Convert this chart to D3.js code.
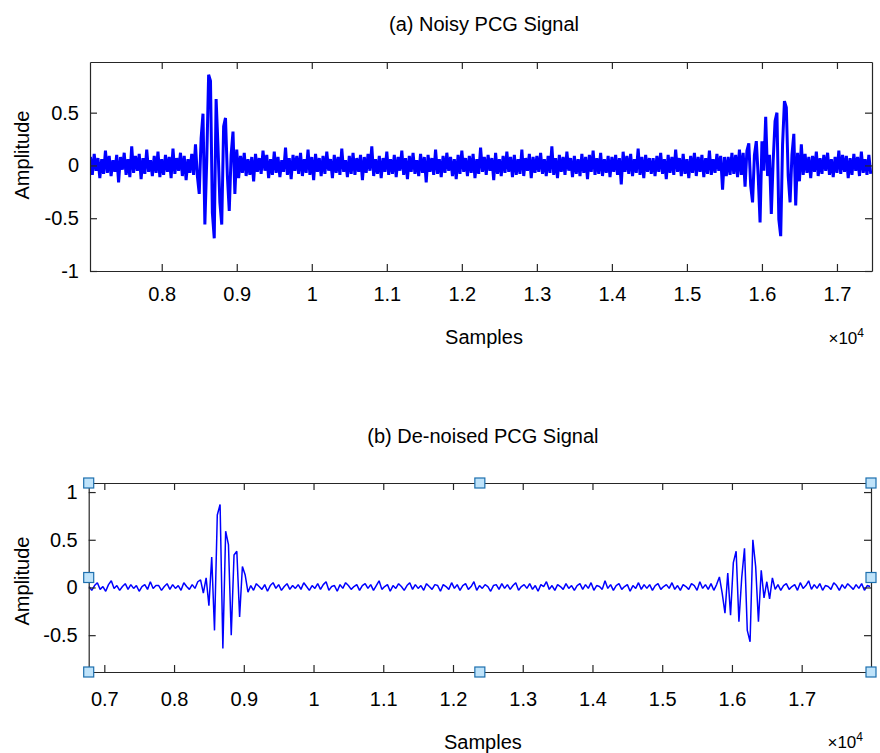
<html>
  <head>
    <style>
      body { margin: 0; background: #fff; }
      text { font-family: "Liberation Sans", Arial, Helvetica, sans-serif; fill: #000; }
      .axis path, .axis line { stroke: #262626; stroke-width: 1.2; }
      .axis text { font-size: 20px; fill: #000; }
    </style>
    <script src="https://cdn.jsdelivr.net/npm/d3@7"></script>
  </head>
  <body>
    <svg id="container" width="880" height="753"></svg>
  </body>
  <script>
    // noisy PCG, one value every 25 samples starting at sample 7050
    const noisyStart = 7050;
    const noisyStep = 25;
    const noisyValues = [
      0.08,-0.09,0.11,-0.05,0.07,-0.12,0.06,-0.08,0.14,-0.07,0.09,-0.1,0.05,-0.06,0.1,-0.16,0.08,-0.04,0.12,-0.09,
      0.06,-0.11,0.18,-0.07,0.09,-0.05,0.11,-0.13,0.07,-0.08,0.15,-0.06,0.05,-0.1,0.09,-0.07,0.13,-0.11,0.06,-0.09,
      0.1,-0.06,0.08,-0.12,0.16,-0.08,0.07,-0.05,0.12,-0.1,0.09,-0.14,0.06,-0.07,0.11,-0.09,0.2,-0.1,-0.27,0.26,
      0.49,-0.56,0.05,0.86,0.8,-0.45,-0.69,0.63,0.18,-0.35,-0.56,0.37,0.45,-0.1,-0.43,0.1,0.32,-0.27,0.15,-0.12,
      0.09,-0.07,0.12,-0.1,0.06,-0.09,0.08,-0.15,0.11,-0.06,0.07,-0.08,0.14,-0.05,0.1,-0.12,0.06,-0.09,0.13,-0.07,
      0.08,-0.11,0.05,-0.06,0.17,-0.09,0.07,-0.13,0.1,-0.05,0.09,-0.08,0.12,-0.1,0.06,-0.07,0.15,-0.09,0.08,-0.14,
      0.11,-0.06,0.07,-0.1,0.09,-0.08,0.13,-0.05,0.06,-0.12,0.1,-0.07,0.08,-0.09,0.16,-0.06,0.05,-0.11,0.09,-0.08,
      0.12,-0.09,0.07,-0.06,0.1,-0.14,0.08,-0.07,0.11,-0.05,0.18,-0.1,0.06,-0.08,0.09,-0.12,0.07,-0.06,0.13,-0.09,
      0.06,-0.08,0.1,-0.11,0.08,-0.05,0.14,-0.09,0.07,-0.13,0.09,-0.06,0.12,-0.08,0.05,-0.1,0.11,-0.07,0.08,-0.16,
      0.1,-0.06,0.07,-0.09,0.15,-0.08,0.06,-0.11,0.09,-0.07,0.12,-0.05,0.08,-0.1,0.06,-0.13,0.1,-0.08,0.14,-0.06,
      0.07,-0.1,0.09,-0.07,0.11,-0.12,0.06,-0.08,0.17,-0.06,0.08,-0.09,0.1,-0.05,0.07,-0.14,0.12,-0.08,0.06,-0.1,
      0.09,-0.07,0.13,-0.06,0.08,-0.11,0.1,-0.09,0.06,-0.08,0.15,-0.1,0.07,-0.05,0.11,-0.12,0.08,-0.07,0.09,-0.06,
      0.12,-0.08,0.06,-0.1,0.09,-0.07,0.18,-0.09,0.07,-0.12,0.1,-0.06,0.08,-0.09,0.13,-0.05,0.07,-0.11,0.09,-0.08,
      0.06,-0.1,0.11,-0.07,0.08,-0.13,0.1,-0.06,0.14,-0.09,0.07,-0.08,0.12,-0.1,0.06,-0.07,0.09,-0.11,0.08,-0.06,
      0.1,-0.09,0.07,-0.18,0.13,-0.06,0.09,-0.08,0.11,-0.1,0.06,-0.07,0.16,-0.09,0.08,-0.12,0.1,-0.06,0.07,-0.08,
      0.07,-0.1,0.09,-0.06,0.12,-0.08,0.06,-0.13,0.1,-0.07,0.08,-0.09,0.15,-0.06,0.07,-0.1,0.11,-0.08,0.06,-0.12,
      0.09,-0.07,0.12,-0.1,0.08,-0.06,0.1,-0.11,0.07,-0.08,0.14,-0.09,0.06,-0.07,0.11,-0.05,0.09,-0.23,0.08,-0.1,
      0.08,-0.09,0.12,-0.08,0.1,-0.11,0.15,-0.09,0.12,-0.2,0.14,0.21,-0.19,-0.35,0.1,0.23,-0.1,-0.54,0.23,-0.05,
      0.46,-0.1,0.1,-0.46,0.05,0.42,0.5,-0.51,-0.67,0.2,0.61,0.55,-0.1,-0.35,0.1,0.3,-0.38,0.12,-0.15,0.2,
      -0.09,0.11,-0.07,0.08,-0.12,0.09,-0.06,0.13,-0.1,0.07,-0.08,0.1,-0.05,0.12,-0.09,0.06,-0.11,0.08,-0.07,0.14,
      -0.08,0.1,-0.06,0.09,-0.12,0.07,-0.09,0.11,-0.05,0.08,-0.1,0.13,-0.07,0.06,-0.09,0.1,-0.08
    ];

    // de-noised PCG, one value every 40 samples starting at sample 6780
    const cleanStart = 6780;
    const cleanStep = 40;
    const cleanValues = [
      0.01,-0.03,0.02,0.05,-0.02,0.01,-0.04,0.03,0.07,-0.01,0.02,-0.03,0.01,0.04,-0.02,0.03,-0.01,0.02,-0.04,0.01,0.03,-0.02,0.06,-0.01,0.02,
      0.02,-0.03,0.01,0.04,-0.02,0.03,-0.01,0.02,-0.03,0.05,0.01,-0.02,0.03,-0.01,0.06,0.08,-0.06,0.1,-0.19,0.32,-0.45,0.76,0.87,-0.64,0.59,
      0.45,-0.5,0.34,0.38,-0.31,0.22,0.13,-0.05,0.02,-0.03,0.04,0.01,-0.02,0.03,-0.04,0.02,0.05,-0.01,0.03,-0.03,0.01,0.04,-0.02,0.02,-0.01,
      0.03,-0.02,0.05,0.01,-0.03,0.02,-0.01,0.04,-0.02,0.03,0.06,-0.03,0.01,0.02,-0.04,0.03,-0.01,0.05,0.02,-0.02,0.01,0.03,-0.03,0.02,0.04,
      -0.01,0.03,-0.03,0.02,0.07,-0.02,0.01,0.03,-0.04,0.02,-0.01,0.04,0.01,-0.03,0.02,0.05,-0.02,0.03,-0.01,0.02,-0.03,0.04,0.01,-0.02,0.03,
      0.02,-0.04,0.03,0.01,-0.02,0.05,-0.01,0.03,-0.03,0.02,0.04,-0.02,0.01,0.06,-0.03,0.02,-0.01,0.03,0.01,-0.04,0.02,0.03,-0.02,0.04,-0.01,
      0.03,-0.02,0.02,0.05,-0.03,0.01,0.03,-0.01,0.04,-0.02,0.02,-0.04,0.03,0.01,0.06,-0.02,0.02,-0.03,0.03,0.01,-0.02,0.04,-0.01,0.02,-0.03,
      0.02,0.04,-0.02,0.03,-0.01,0.05,-0.03,0.02,0.01,-0.02,0.07,-0.01,0.03,-0.03,0.02,0.04,-0.02,0.01,0.03,-0.04,0.02,-0.01,0.05,-0.02,0.03,
      -0.01,0.03,-0.03,0.02,0.04,-0.02,0.01,0.03,-0.01,0.05,-0.02,0.02,-0.03,0.03,0.01,-0.02,0.04,0.02,-0.03,0.06,-0.01,0.03,-0.02,0.04,-0.03,
      0.03,0.11,-0.06,-0.27,0.15,-0.29,0.26,0.38,-0.36,0.1,0.41,-0.45,-0.57,0.5,0.22,-0.36,0.18,-0.11,0.06,-0.12,0.1,-0.02,0.03,-0.03,0.02,
      0.04,-0.02,0.01,0.03,-0.03,0.05,-0.01,0.02,0.07,-0.02,0.03,-0.01,0.04,-0.03,0.02,0.01,-0.02,0.05,0.02,-0.03,0.03,-0.01,0.04,0.01,-0.02,
      0.03,-0.01,0.04,-0.03,0.02,0.01
    ];

    const xTicksTop = [8000, 9000, 10000, 11000, 12000, 13000, 14000, 15000, 16000, 17000];
    const xTicksBottom = [7000, 8000, 9000, 10000, 11000, 12000, 13000, 14000, 15000, 16000, 17000];
    const yTicksTop = [-1, -0.5, 0, 0.5];
    const yTicksBottom = [-0.5, 0, 0.5, 1];
    const titles = ["(a) Noisy PCG Signal", "(b) De-noised PCG Signal"];
    const xLabel = "Samples";
    const yLabel = "Amplitude";

    const svg = d3.select("#container");

    function drawPanel(p) {
      const x = d3.scaleLinear().domain(p.xDomain).range([p.left, p.right]);
      const y = d3.scaleLinear().domain(p.yDomain).range([p.bottom, p.top]);
      const g = svg.append("g");

      g.append("clipPath").attr("id", p.id)
        .append("rect")
        .attr("x", p.left).attr("y", p.top)
        .attr("width", p.right - p.left).attr("height", p.bottom - p.top);

      const line = d3.line()
        .x((d, i) => x(p.start + i * p.step))
        .y(d => y(d));

      g.append("path")
        .datum(p.values)
        .attr("clip-path", `url(#${p.id})`)
        .attr("fill", "none")
        .attr("stroke", "#0000ff")
        .attr("stroke-width", p.lineWidth)
        .attr("stroke-linejoin", "bevel")
        .attr("d", line);

      // bottom axis with labels, ticks pointing inward
      g.append("g").attr("class", "axis")
        .attr("transform", `translate(0,${p.bottom})`)
        .call(d3.axisBottom(x).tickValues(p.xTicks).tickSizeInner(-7).tickSizeOuter(0)
          .tickPadding(p.xPad).tickFormat(d => d / 10000));
      g.append("g").attr("class", "axis")
        .attr("transform", `translate(0,${p.top})`)
        .call(d3.axisTop(x).tickValues(p.xTicks).tickSizeInner(-7).tickSizeOuter(0).tickFormat(""));
      g.append("g").attr("class", "axis")
        .attr("transform", `translate(${p.left},0)`)
        .call(d3.axisLeft(y).tickValues(p.yTicks).tickSizeInner(-7).tickSizeOuter(0)
          .tickPadding(11).tickFormat(d => d));
      g.append("g").attr("class", "axis")
        .attr("transform", `translate(${p.right},0)`)
        .call(d3.axisRight(y).tickValues(p.yTicks).tickSizeInner(-7).tickSizeOuter(0).tickFormat(""));
      g.selectAll(".axis").attr("font-family", null).attr("font-size", null);

      const cx = (p.left + p.right) / 2;
      g.append("text").attr("x", cx + 3).attr("y", p.titleY)
        .attr("text-anchor", "middle").style("font-size", "20px").text(p.title);
      g.append("text").attr("x", cx + 3).attr("y", p.xLabelY)
        .attr("text-anchor", "middle").style("font-size", "20px").text(xLabel);
      g.append("text")
        .attr("transform", `translate(29,${p.yLabelY}) rotate(-90)`)
        .attr("text-anchor", "middle").style("font-size", "20px").text(yLabel);

      const ex = g.append("text").attr("x", p.right - 8).attr("y", p.expY)
        .attr("text-anchor", "end").style("font-size", "17px");
      ex.append("tspan").text("\u00d710");
      ex.append("tspan").attr("dy", -7).style("font-size", "12px").text("4");

      return { x, y, g };
    }

    drawPanel({
      id: "clipA", left: 90, right: 872, top: 62, bottom: 271,
      xDomain: [7044, 17467], yDomain: [-1, 0.98],
      xTicks: xTicksTop, yTicks: yTicksTop, xPad: 16,
      start: noisyStart, step: noisyStep, values: noisyValues, lineWidth: 3,
      title: titles[0], titleY: 31, xLabelY: 344, yLabelY: 155, expY: 344
    });

    const b = drawPanel({
      id: "clipB", left: 88.7, right: 871, top: 483, bottom: 672,
      xDomain: [6776, 17994], yDomain: [-0.886, 1.095],
      xTicks: xTicksBottom, yTicks: yTicksBottom, xPad: 20,
      start: cleanStart, step: cleanStep, values: cleanValues, lineWidth: 1.5,
      title: titles[1], titleY: 443, xLabelY: 749, yLabelY: 581, expY: 748
    });

    // selection handles around the second axes
    const hx = [88.7, (88.7 + 871) / 2, 871];
    const hy = [483, (483 + 672) / 2, 672];
    const handles = [];
    hx.forEach((xx, i) => hy.forEach((yy, j) => {
      if (!(i === 1 && j === 1)) handles.push([xx, yy]);
    }));
    b.g.selectAll("rect.handle")
      .data(handles)
      .enter()
      .append("rect")
      .attr("class", "handle")
      .attr("x", d => d[0] - 5)
      .attr("y", d => d[1] - 5)
      .attr("width", 10)
      .attr("height", 10)
      .attr("fill", "#bfe3fa")
      .attr("stroke", "#1d6fae")
      .attr("stroke-width", 1.2);
  </script>
</html>
